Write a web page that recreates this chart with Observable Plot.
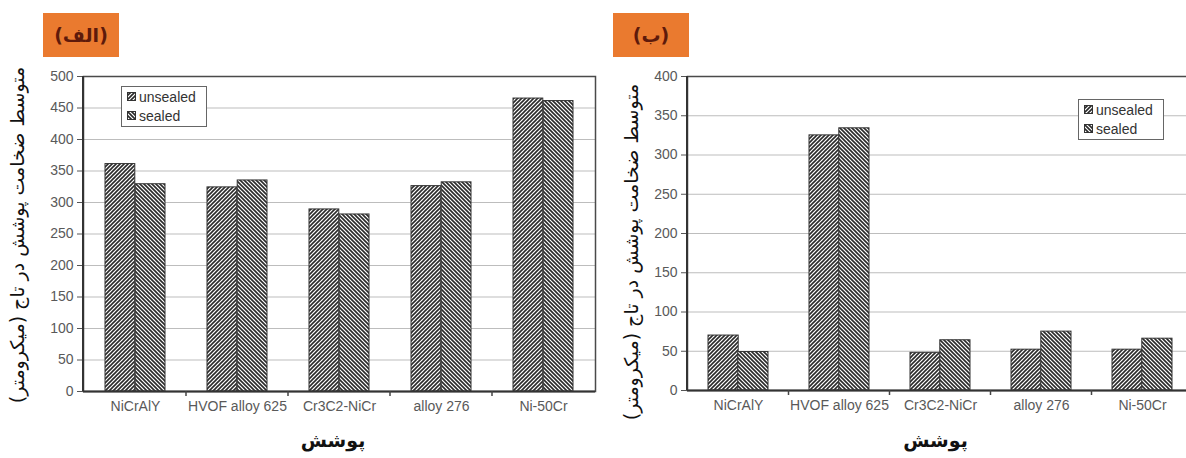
<!DOCTYPE html>
<html><head><meta charset="utf-8">
<script src="https://cdn.jsdelivr.net/npm/d3@7"></script>
<script src="https://cdn.jsdelivr.net/npm/@observablehq/plot@0.6"></script>
<style>
body{margin:0;background:#fff;}
#wrap{position:relative;width:1186px;height:458px;overflow:hidden;background:#fff;}
.badge{position:absolute;top:13px;width:76px;height:44px;background:#EA7A2F;color:#5e1a0b;font:bold 19px "DejaVu Sans";display:flex;align-items:center;justify-content:center;direction:rtl;}
.ytitle{position:absolute;white-space:nowrap;font:19px "DejaVu Sans";color:#111;direction:rtl;transform:translate(-50%,-50%) rotate(-90deg);}
.xtitle{position:absolute;white-space:nowrap;font:bold 19px "DejaVu Sans";color:#111;direction:rtl;transform:translate(-50%,-50%);}
.legend{position:absolute;box-sizing:border-box;border:1.5px solid #666;background:#fff;font:14px "Liberation Sans";color:#333;padding:0 4px 0 5px;}
.legend .row{display:flex;align-items:center;height:19px;}
.legend svg{margin-right:3px;}
.chart{position:absolute;top:0;}
</style></head>
<body>
<svg width="0" height="0" style="position:absolute">
<defs>
<pattern id="hatchU" patternUnits="userSpaceOnUse" width="4" height="4">
<rect width="4" height="4" fill="#fff"/>
<path d="M-1,1 l2,-2 M0,4 l4,-4 M3,5 l2,-2" stroke="#2a2a2a" stroke-width="1.6"/>
</pattern>
<pattern id="hatchS" patternUnits="userSpaceOnUse" width="4" height="4">
<rect width="4" height="4" fill="#fff"/>
<path d="M-1,3 l2,2 M0,0 l4,4 M3,-1 l2,2" stroke="#2a2a2a" stroke-width="1.6"/>
</pattern>
</defs>
</svg>
<div id="wrap"></div>
<script>
// ---- data ----
const categories = ["NiCrAlY", "HVOF alloy 625", "Cr3C2-NiCr", "alloy 276", "Ni-50Cr"];
const seriesNames = ["unsealed", "sealed"];
const leftUnsealed = [361, 324, 289, 326, 465];
const leftSealed   = [329, 335, 281, 332, 461];
const rightUnsealed = [70, 325, 48, 52, 52];
const rightSealed   = [49, 334, 64, 75, 66];
const leftYTicks  = [0, 50, 100, 150, 200, 250, 300, 350, 400, 450, 500];
const rightYTicks = [0, 50, 100, 150, 200, 250, 300, 350, 400];
const yTitle = "متوسط ضخامت پوشش در تاج (میکرومتر)";
const xTitle = "پوشش";
const badgeLeft = "(الف)";
const badgeRight = "(ب)";

const wrap = document.getElementById("wrap");

function makeChart({unsealed, sealed, yTicks, left, width, marginLeft, marginBottom}) {
  const mr = 5;
  const plotW = width - marginLeft - mr;
  const padIn = 0.41, padOut = padIn / 2;
  const step = plotW / (categories.length - padIn + 2 * padOut);
  const half = step * (1 - padIn) / 2;
  const rows = categories.flatMap((c, i) => [
    {cat: c, series: seriesNames[0], value: unsealed[i]},
    {cat: c, series: seriesNames[1], value: sealed[i]}
  ]);
  const yMax = yTicks[yTicks.length - 1];
  const p = Plot.plot({
    width, height: 458, marginLeft, marginRight: mr, marginTop: 76, marginBottom,
    style: {fontFamily: "Liberation Sans", fontSize: "14px", color: "#595959", background: "transparent", overflow: "visible"},
    x: {domain: categories, paddingInner: padIn, paddingOuter: padOut, label: null},
    y: {domain: [0, yMax], label: null},
    marks: [
      Plot.gridY(yTicks, {stroke: "#bdbdbd", strokeOpacity: 1, strokeWidth: 1}),
      Plot.barY(rows.filter(d => d.series === "unsealed"), {x: "cat", y: "value", fill: "url(#hatchU)", stroke: "#333", strokeWidth: 1, insetRight: half}),
      Plot.barY(rows.filter(d => d.series === "sealed"), {x: "cat", y: "value", fill: "url(#hatchS)", stroke: "#333", strokeWidth: 1, insetLeft: half}),
      Plot.frame({stroke: "#4a4a4a", strokeWidth: 1.5}),
      Plot.ruleY([0], {stroke: "#333", strokeWidth: 2}),
      Plot.axisY(yTicks, {tickSize: 6, tickPadding: 4, stroke: "#555", fill: "#595959", fontSize: 14}),
      Plot.axisX({tickSize: 0, tickPadding: 10, fill: "#595959", fontSize: 14})
    ]
  });
  // Excel-style axis line and tick marks between categories
  const xs = p.scale("x");
  const s = xs.apply(categories[1]) - xs.apply(categories[0]);
  const bw = xs.bandwidth ?? s * (1 - padIn);
  const yb = 458 - marginBottom;
  const g = d3.select(p).append("g");
  g.append("line").attr("x1", marginLeft).attr("x2", marginLeft).attr("y1", 76).attr("y2", yb)
    .attr("stroke", "#333").attr("stroke-width", 2);
  for (let i = 1; i < categories.length; i++) {
    const xb = xs.apply(categories[i]) - (s - bw) / 2;
    g.append("line").attr("x1", xb).attr("x2", xb).attr("y1", yb).attr("y2", yb + 5).attr("stroke", "#444").attr("stroke-width", 1.5);
  }
  p.classList.add("chart");
  p.style.left = left + "px";
  wrap.appendChild(p);
  return {plotLeft: left + marginLeft, plotRight: left + width - mr};
}

function legend(x, y) {
  const d = document.createElement("div");
  d.className = "legend";
  d.style.left = x + "px"; d.style.top = y + "px"; d.style.width = "86px"; d.style.height = "41px";
  seriesNames.forEach((n, i) => {
    const r = document.createElement("div");
    r.className = "row";
    r.innerHTML = `<svg width="9" height="9"><rect x="0.5" y="0.5" width="8" height="8" fill="url(#${i === 0 ? "hatchU" : "hatchS"})" stroke="#333"/></svg><span>${n}</span>`;
    d.appendChild(r);
  });
  wrap.appendChild(d);
}
function badge(x, text) {
  const d = document.createElement("div");
  d.className = "badge"; d.style.left = x + "px"; d.textContent = text;
  wrap.appendChild(d);
}
function ytitle(cx, cy) {
  const d = document.createElement("div");
  d.className = "ytitle"; d.style.left = cx + "px"; d.style.top = cy + "px"; d.textContent = yTitle;
  d.dir = "rtl";
  wrap.appendChild(d);
}
function xtitle(cx, cy) {
  const d = document.createElement("div");
  d.className = "xtitle"; d.style.left = cx + "px"; d.style.top = cy + "px"; d.textContent = xTitle;
  wrap.appendChild(d);
}

const L = makeChart({unsealed: leftUnsealed, sealed: leftSealed, yTicks: leftYTicks, left: 0, width: 600, marginLeft: 83, marginBottom: 67});
const R = makeChart({unsealed: rightUnsealed, sealed: rightSealed, yTicks: rightYTicks, left: 600, width: 597, marginLeft: 87, marginBottom: 68});

badge(43, badgeLeft);
badge(613, badgeRight);
ytitle(17, 235);
ytitle(631, 252);
xtitle((L.plotLeft + L.plotRight) / 2 - 6, 440);
xtitle((R.plotLeft + R.plotRight) / 2 - 4, 440);
legend(121, 86);
legend(1078, 99);
</script>
</body></html>
